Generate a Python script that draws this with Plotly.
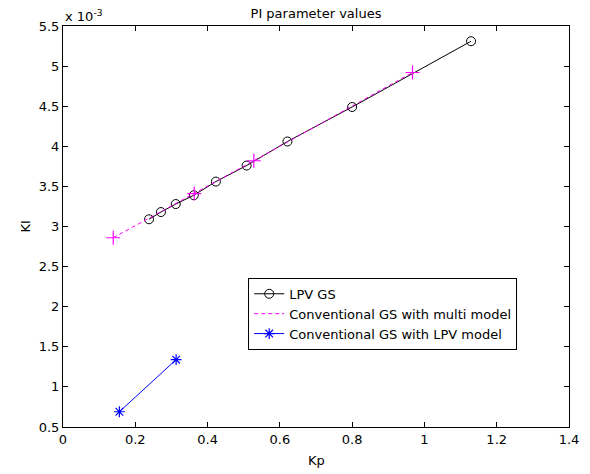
import plotly.graph_objects as go

# Data (KI in units of 1e-3)
lpv_kp = [0.238, 0.271, 0.312, 0.362, 0.423, 0.508, 0.621, 0.800, 1.129]
lpv_ki = [3.09, 3.18, 3.28, 3.39, 3.56, 3.76, 4.06, 4.49, 5.31]

multi_kp = [0.139, 0.363, 0.528, 0.967]
multi_ki = [2.86, 3.41, 3.82, 4.92]

lpvm_kp = [0.156, 0.313]
lpvm_ki = [0.69, 1.34]

x_ticks = [0, 0.2, 0.4, 0.6, 0.8, 1, 1.2, 1.4]
y_ticks = [0.5, 1, 1.5, 2, 2.5, 3, 3.5, 4, 4.5, 5, 5.5]

FAM = "DejaVu Sans, Verdana, sans-serif"
font = dict(family=FAM, size=13, color="black")
DASH = "4px,3px"

fig = go.Figure()
fig.add_trace(go.Scatter(
    x=lpv_kp, y=lpv_ki, mode="lines+markers", name="LPV GS",
    line=dict(color="black", width=1),
    marker=dict(symbol="circle-open", size=9, color="black", line=dict(width=1)),
))
fig.add_trace(go.Scatter(
    x=multi_kp, y=multi_ki, mode="lines+markers", name="Conventional GS with multi model",
    line=dict(color="#ff00ff", width=1, dash=DASH),
    marker=dict(symbol="cross-thin-open", size=10, color="#ff00ff", line=dict(width=1.2, color="#ff00ff")),
    showlegend=False,
))
# legend entry for magenta (line only, as in reference)
fig.add_trace(go.Scatter(
    x=[None], y=[None], mode="lines", name="Conventional GS with multi model",
    line=dict(color="#ff00ff", width=1, dash=DASH),
))
fig.add_trace(go.Scatter(
    x=lpvm_kp, y=lpvm_ki, mode="lines+markers", name="Conventional GS with LPV model",
    line=dict(color="blue", width=1),
    marker=dict(symbol="asterisk-open", size=9, color="blue", line=dict(width=1.2, color="blue")),
))

axis_common = dict(
    showgrid=False, zeroline=False, showline=True, linecolor="black", linewidth=1,
    mirror="ticks", ticks="inside", ticklen=5, tickcolor="black",
    tickfont=font, automargin=False,
)
fig.update_xaxes(range=[0, 1.4], tickvals=x_ticks, ticktext=[f"{v:g}" for v in x_ticks], **axis_common)
fig.update_yaxes(range=[0.5, 5.5], tickvals=y_ticks, ticktext=[f"{v:g}" for v in y_ticks], **axis_common)

fig.update_layout(
    width=590, height=474,
    margin=dict(l=63, r=21, t=26, b=47),
    paper_bgcolor="white", plot_bgcolor="white",
    font=font,
    title=dict(text="PI parameter values", xref="paper", x=0.5, xanchor="center",
               yref="container", y=0.972, yanchor="middle", font=font),
    legend=dict(x=0.366, y=0.372, xanchor="left", yanchor="top",
                bordercolor="black", borderwidth=1, bgcolor="white",
                font=font, tracegroupgap=0, itemwidth=30),
    showlegend=True,
)
fig.add_annotation(text="x 10<sup>-3</sup>", xref="paper", yref="paper", x=0, y=1.0,
                   xanchor="left", yanchor="bottom", showarrow=False, font=font)
fig.add_annotation(text="KI", xref="paper", yref="paper", x=-0.075, y=0.5, xanchor="center",
                   yanchor="middle", textangle=-90, showarrow=False, font=font)
fig.add_annotation(text="Kp", xref="paper", yref="paper", x=0.5, y=-0.083, xanchor="center",
                   yanchor="middle", showarrow=False, font=font)

fig.write_html("out.html", config={"displayModeBar": False},
               post_script="document.body.style.margin='0';document.body.style.overflow='hidden';")
